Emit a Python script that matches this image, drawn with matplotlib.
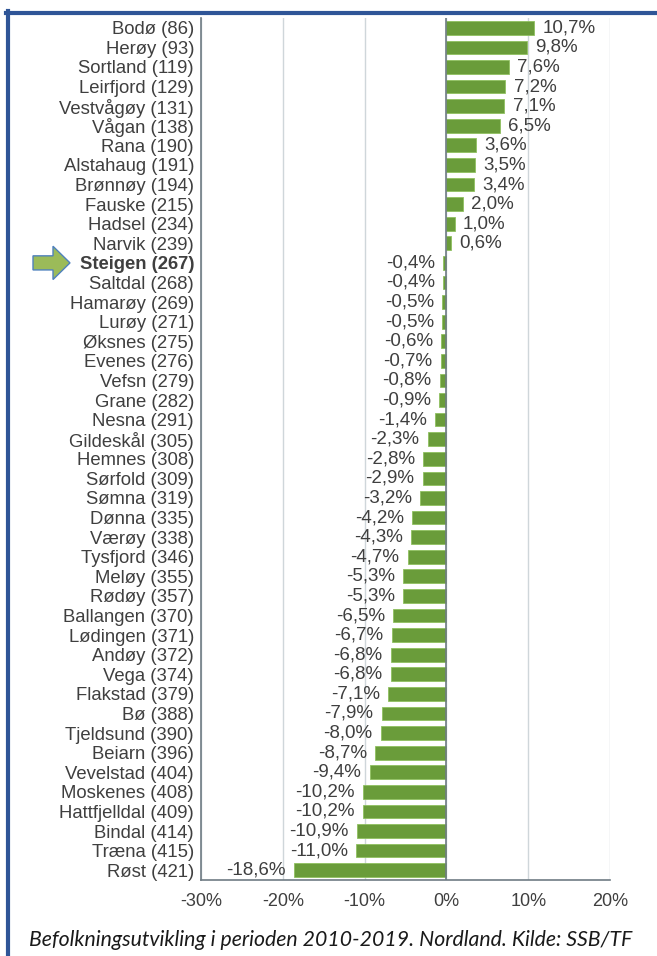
import numpy as np
import matplotlib
matplotlib.use('Agg')
import matplotlib.pyplot as plt
from matplotlib.lines import Line2D
from matplotlib.patches import Polygon
from matplotlib.transforms import blended_transform_factory

# Kommuner med rangering og befolkningsendring 2010-2019 (prosent)
kommuner = ['Bodø', 'Herøy', 'Sortland', 'Leirfjord', 'Vestvågøy', 'Vågan', 'Rana',
            'Alstahaug', 'Brønnøy', 'Fauske', 'Hadsel', 'Narvik', 'Steigen', 'Saltdal',
            'Hamarøy', 'Lurøy', 'Øksnes', 'Evenes', 'Vefsn', 'Grane', 'Nesna',
            'Gildeskål', 'Hemnes', 'Sørfold', 'Sømna', 'Dønna', 'Værøy', 'Tysfjord',
            'Meløy', 'Rødøy', 'Ballangen', 'Lødingen', 'Andøy', 'Vega', 'Flakstad',
            'Bø', 'Tjeldsund', 'Beiarn', 'Vevelstad', 'Moskenes', 'Hattfjelldal',
            'Bindal', 'Træna', 'Røst']
rang = [86, 93, 119, 129, 131, 138, 190, 191, 194, 215, 234, 239, 267, 268,
        269, 271, 275, 276, 279, 282, 291, 305, 308, 309, 319, 335, 338, 346,
        355, 357, 370, 371, 372, 374, 379, 388, 390, 396, 404, 408, 409, 414,
        415, 421]
endring = [10.7, 9.8, 7.6, 7.2, 7.1, 6.5, 3.6, 3.5, 3.4, 2.0, 1.0, 0.6, -0.4, -0.4,
           -0.5, -0.5, -0.6, -0.7, -0.8, -0.9, -1.4, -2.3, -2.8, -2.9, -3.2, -4.2,
           -4.3, -4.7, -5.3, -5.3, -6.5, -6.7, -6.8, -6.8, -7.1, -7.9, -8.0, -8.7,
           -9.4, -10.2, -10.2, -10.9, -11.0, -18.6]
merket = 'Steigen'
x_ticks = [-30, -20, -10, 0, 10, 20]

tekst = '#3f3f3f'
akse = '#6f7c84'
grid = '#cfd6da'

plt.rcParams['font.family'] = ['Liberation Sans', 'DejaVu Sans']

fig = plt.figure(figsize=(6.57, 9.56), dpi=100)
ax = fig.add_axes([201 / 657, 1 - 880 / 956, (610 - 201) / 657, (880 - 18) / 956])

etiketter = [f'{k} ({r})' for k, r in zip(kommuner, rang)]
y = np.arange(len(kommuner))
ax.barh(y, endring, height=0.7, color='#6a9c3a', edgecolor='#8fc060', linewidth=0.6, zorder=3)

for yi, v in zip(y, endring):
    txt = f'{v:.1f}'.replace('.', ',') + '%'
    if v >= 0:
        ax.annotate(txt, (v, yi), xytext=(6, 0), textcoords='offset points',
                    ha='left', va='center', fontsize=13.5, color=tekst)
    else:
        ax.annotate(txt, (v, yi), xytext=(-6, 0), textcoords='offset points',
                    ha='right', va='center', fontsize=13.5, color=tekst)

ax.set_ylim(len(kommuner) - 0.5, -0.5)
ax.set_xlim(x_ticks[0], x_ticks[-1])
ax.set_yticks(y)
ax.set_yticklabels(etiketter, fontsize=13.3, color=tekst)
for lab, k in zip(ax.get_yticklabels(), kommuner):
    if k == merket:
        lab.set_fontweight('bold')
ax.set_xticks(x_ticks)
ax.set_xticklabels([f'{t}%' for t in x_ticks], fontsize=13, color=tekst)
ax.tick_params(axis='y', length=0, pad=5)
ax.tick_params(axis='x', length=0, pad=9)

ax.grid(axis='x', color=grid, linewidth=1, zorder=0)
ax.axvline(0, color=akse, linewidth=1.2, zorder=4)
for s in ['top', 'right']:
    ax.spines[s].set_visible(False)
for s in ['left', 'bottom']:
    ax.spines[s].set_color(akse)
    ax.spines[s].set_linewidth(1.2)

# Pil ved Steigen
i = kommuner.index(merket)
tr = blended_transform_factory(fig.transFigure, ax.transData)
px = lambda p: p / 657
pil = [(px(33), i - 0.36), (px(53), i - 0.36), (px(53), i - 0.85), (px(70), i),
       (px(53), i + 0.85), (px(53), i + 0.36), (px(33), i + 0.36)]
fig.add_artist(Polygon(pil, closed=True, transform=tr, facecolor='#9bbb59',
                       edgecolor='#4f81bd', linewidth=1, clip_on=False))

# Ramme
blaa = '#2f5597'
fig.add_artist(Line2D([6 / 657, 1], [1 - 13 / 956, 1 - 13 / 956], color=blaa, linewidth=3,
                      transform=fig.transFigure))
fig.add_artist(Line2D([8 / 657, 8 / 657], [0, 1 - 11 / 956], color=blaa, linewidth=3,
                      transform=fig.transFigure))

fig.text(331 / 657, 1 - 940 / 956,
         'Befolkningsutvikling i perioden 2010-2019. Nordland. Kilde: SSB/TF',
         ha='center', va='center', fontsize=15.3, style='italic', family='Lato', color='#1a1a1a')

fig.savefig('out.png', dpi=100)
